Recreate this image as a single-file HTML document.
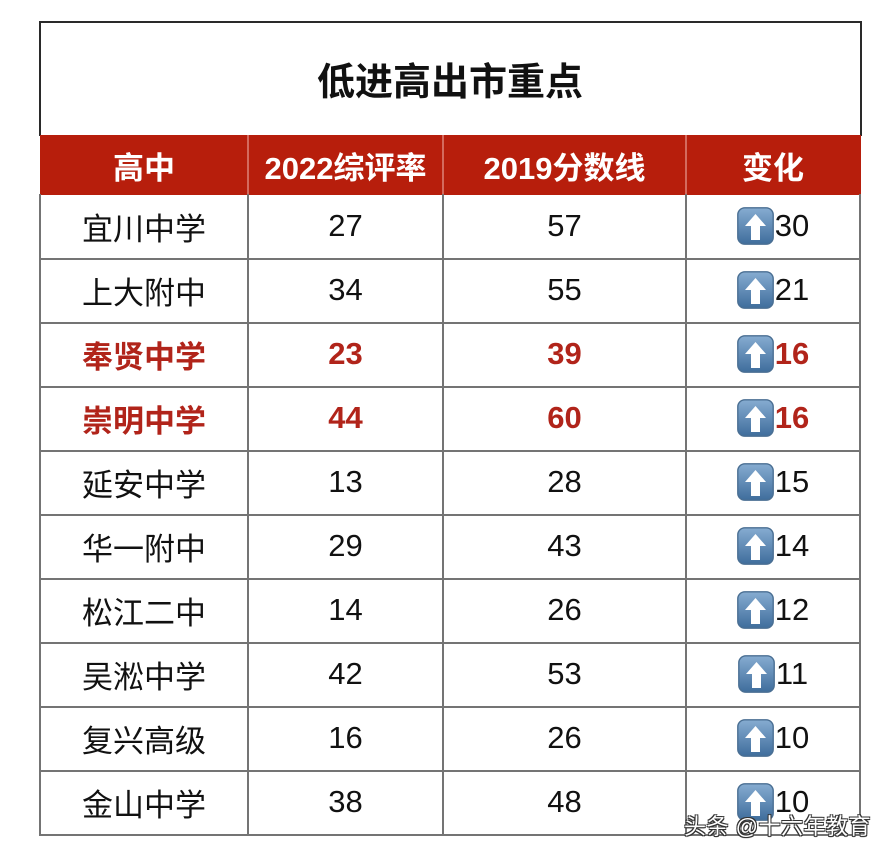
<!DOCTYPE html>
<html><head><meta charset="utf-8">
<style>
html,body{margin:0;padding:0;background:#fff;}
body{width:891px;height:861px;position:relative;overflow:hidden;font-family:"Liberation Sans","Noto Sans CJK SC",sans-serif;}
.abs{position:absolute;}
.hl{position:absolute;left:40px;width:821px;height:2px;background:#747474;}
.vl{position:absolute;width:2px;background:#747474;}
.cell{position:absolute;display:flex;align-items:center;justify-content:center;font-size:31px;color:#111;white-space:nowrap;}
.red{color:#b1241a;font-weight:bold;}
.hdr{color:#fff;font-weight:bold;font-size:31px;}
.ic{width:37px;height:38px;margin-right:1px;display:block;}
</style></head><body>
<!-- title box -->
<div class="abs" style="left:39px;top:21px;width:819px;height:113px;border:2px solid #2a2a2a;border-bottom:none;"></div>
<div class="cell" style="left:40px;top:22px;width:820px;height:113px;font-size:38px;font-weight:bold;color:#111;">低进高出市重点</div>
<!-- header -->
<div class="abs" style="left:40px;top:135px;width:821px;height:60px;background:#b71e0c;"></div>
<div class="abs" style="left:247px;top:135px;width:2px;height:60px;background:#d46a5e;"></div>
<div class="abs" style="left:442px;top:135px;width:2px;height:60px;background:#d46a5e;"></div>
<div class="abs" style="left:685px;top:135px;width:2px;height:60px;background:#d46a5e;"></div>
<div class="cell hdr" style="left:40px;top:135px;width:208px;height:60px;">高中</div>
<div class="cell hdr" style="left:248px;top:135px;width:195px;height:60px;">2022综评率</div>
<div class="cell hdr" style="left:443px;top:135px;width:243px;height:60px;">2019分数线</div>
<div class="cell hdr" style="left:686px;top:135px;width:174px;height:60px;">变化</div>
<!-- grid lines -->
<div class="hl" style="top:258px"></div>
<div class="hl" style="top:322px"></div>
<div class="hl" style="top:386px"></div>
<div class="hl" style="top:450px"></div>
<div class="hl" style="top:514px"></div>
<div class="hl" style="top:578px"></div>
<div class="hl" style="top:642px"></div>
<div class="hl" style="top:706px"></div>
<div class="hl" style="top:770px"></div>
<div class="hl" style="top:834px"></div>
<div class="vl" style="left:39px;top:194px;height:642px"></div>
<div class="vl" style="left:247px;top:194px;height:642px"></div>
<div class="vl" style="left:442px;top:194px;height:642px"></div>
<div class="vl" style="left:685px;top:194px;height:642px"></div>
<div class="vl" style="left:859px;top:194px;height:642px"></div>

<svg width="0" height="0" style="position:absolute">
<defs>
<linearGradient id="g" x1="0" y1="0" x2="0" y2="1">
<stop offset="0" stop-color="#86acd1"/><stop offset="1" stop-color="#3f6d9c"/>
</linearGradient>
<symbol id="up" viewBox="0 0 37 38">
<rect x="0.8" y="0.8" width="35.4" height="36.4" rx="7" fill="url(#g)" stroke="#4a6f93" stroke-width="1.4"/>
<path d="M18.5 7 L29 19 L23 19 L23 33 L14 33 L14 19 L8 19 Z" fill="#fff"/>
</symbol>
</defs>
</svg>

<!-- rows -->
<div class="cell" style="left:40px;top:194px;width:208px;height:64px;">宜川中学</div>
<div class="cell" style="left:248px;top:194px;width:195px;height:64px;">27</div>
<div class="cell" style="left:443px;top:194px;width:243px;height:64px;">57</div>
<div class="cell" style="left:686px;top:194px;width:174px;height:64px;"><svg class="ic"><use href="#up"/></svg>30</div>

<div class="cell" style="left:40px;top:258px;width:208px;height:64px;">上大附中</div>
<div class="cell" style="left:248px;top:258px;width:195px;height:64px;">34</div>
<div class="cell" style="left:443px;top:258px;width:243px;height:64px;">55</div>
<div class="cell" style="left:686px;top:258px;width:174px;height:64px;"><svg class="ic"><use href="#up"/></svg>21</div>

<div class="cell red" style="left:40px;top:322px;width:208px;height:64px;">奉贤中学</div>
<div class="cell red" style="left:248px;top:322px;width:195px;height:64px;">23</div>
<div class="cell red" style="left:443px;top:322px;width:243px;height:64px;">39</div>
<div class="cell red" style="left:686px;top:322px;width:174px;height:64px;"><svg class="ic"><use href="#up"/></svg>16</div>

<div class="cell red" style="left:40px;top:386px;width:208px;height:64px;">崇明中学</div>
<div class="cell red" style="left:248px;top:386px;width:195px;height:64px;">44</div>
<div class="cell red" style="left:443px;top:386px;width:243px;height:64px;">60</div>
<div class="cell red" style="left:686px;top:386px;width:174px;height:64px;"><svg class="ic"><use href="#up"/></svg>16</div>

<div class="cell" style="left:40px;top:450px;width:208px;height:64px;">延安中学</div>
<div class="cell" style="left:248px;top:450px;width:195px;height:64px;">13</div>
<div class="cell" style="left:443px;top:450px;width:243px;height:64px;">28</div>
<div class="cell" style="left:686px;top:450px;width:174px;height:64px;"><svg class="ic"><use href="#up"/></svg>15</div>

<div class="cell" style="left:40px;top:514px;width:208px;height:64px;">华一附中</div>
<div class="cell" style="left:248px;top:514px;width:195px;height:64px;">29</div>
<div class="cell" style="left:443px;top:514px;width:243px;height:64px;">43</div>
<div class="cell" style="left:686px;top:514px;width:174px;height:64px;"><svg class="ic"><use href="#up"/></svg>14</div>

<div class="cell" style="left:40px;top:578px;width:208px;height:64px;">松江二中</div>
<div class="cell" style="left:248px;top:578px;width:195px;height:64px;">14</div>
<div class="cell" style="left:443px;top:578px;width:243px;height:64px;">26</div>
<div class="cell" style="left:686px;top:578px;width:174px;height:64px;"><svg class="ic"><use href="#up"/></svg>12</div>

<div class="cell" style="left:40px;top:642px;width:208px;height:64px;">吴淞中学</div>
<div class="cell" style="left:248px;top:642px;width:195px;height:64px;">42</div>
<div class="cell" style="left:443px;top:642px;width:243px;height:64px;">53</div>
<div class="cell" style="left:686px;top:642px;width:174px;height:64px;"><svg class="ic"><use href="#up"/></svg>11</div>

<div class="cell" style="left:40px;top:706px;width:208px;height:64px;">复兴高级</div>
<div class="cell" style="left:248px;top:706px;width:195px;height:64px;">16</div>
<div class="cell" style="left:443px;top:706px;width:243px;height:64px;">26</div>
<div class="cell" style="left:686px;top:706px;width:174px;height:64px;"><svg class="ic"><use href="#up"/></svg>10</div>

<div class="cell" style="left:40px;top:770px;width:208px;height:64px;">金山中学</div>
<div class="cell" style="left:248px;top:770px;width:195px;height:64px;">38</div>
<div class="cell" style="left:443px;top:770px;width:243px;height:64px;">48</div>
<div class="cell" style="left:686px;top:770px;width:174px;height:64px;"><svg class="ic"><use href="#up"/></svg>10</div>

<!-- watermark -->
<div class="abs" style="left:684px;top:814px;font-size:22px;line-height:26px;color:#fff;white-space:nowrap;letter-spacing:0.5px;font-family:'Liberation Sans','Noto Sans CJK SC',sans-serif;text-shadow:1px 1px 0 #333,-1px -1px 0 #333,1px -1px 0 #333,-1px 1px 0 #333,0 1px 1px #222;">头条 @十六年教育</div>
</body></html>
